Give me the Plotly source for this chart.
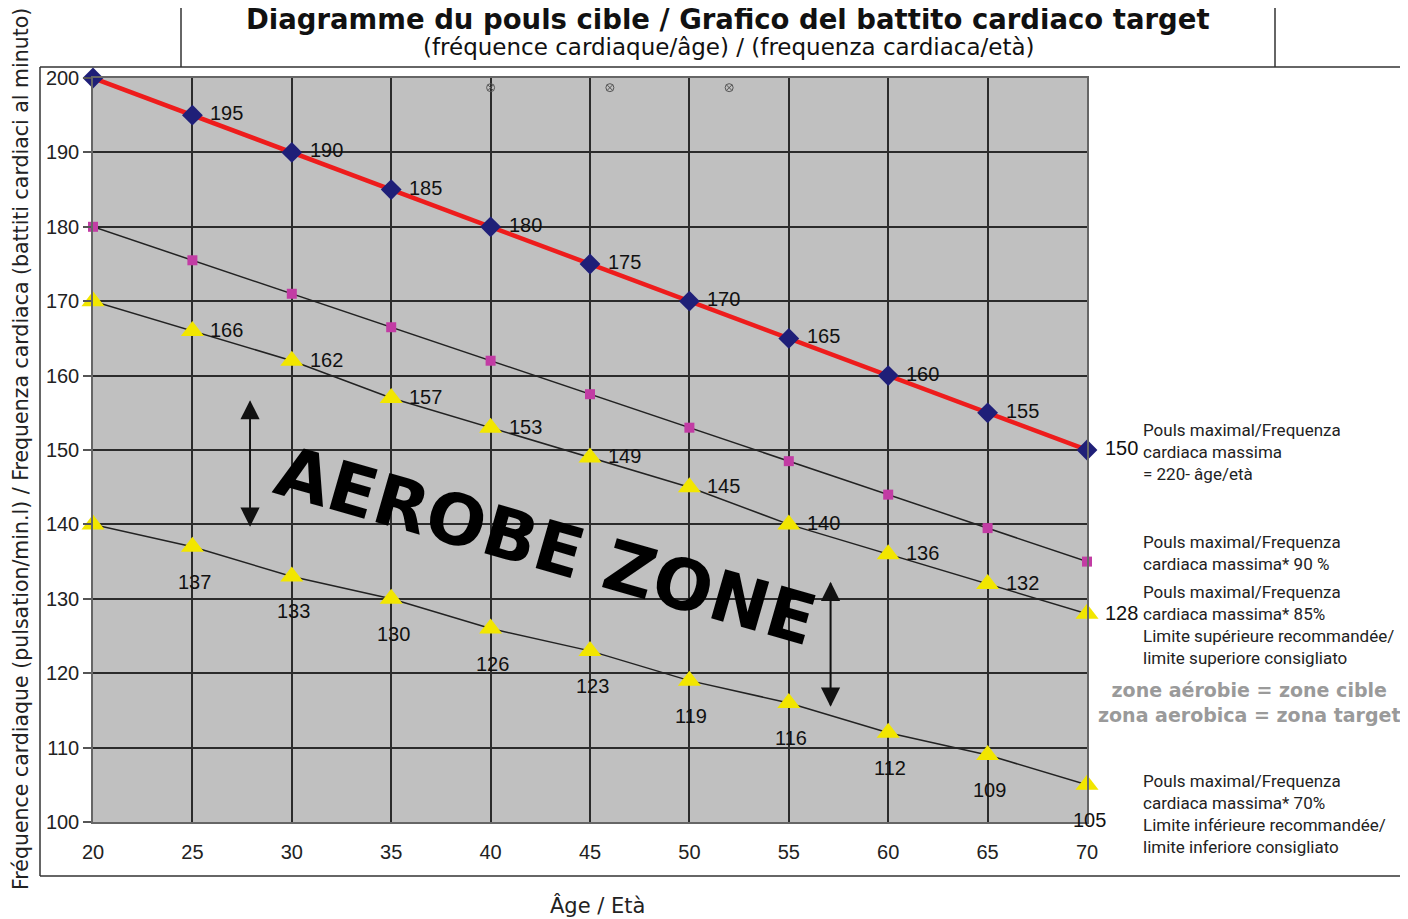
import plotly.graph_objects as go

# ---------------- data ----------------
ages = [20, 25, 30, 35, 40, 45, 50, 55, 60, 65, 70]
hr_max = [200, 195, 190, 185, 180, 175, 170, 165, 160, 155, 150]
hr_90 = [180, 175.5, 171, 166.5, 162, 157.5, 153, 148.5, 144, 139.5, 135]
hr_85 = [170, 166, 162, 157, 153, 149, 145, 140, 136, 132, 128]
hr_70 = [140, 137, 133, 130, 126, 123, 119, 116, 112, 109, 105]
labels_max = ["", "195", "190", "185", "180", "175", "170", "165", "160", "155", "150"]
labels_85 = ["", "166", "162", "157", "153", "149", "145", "140", "136", "132", "128"]
labels_70 = ["", "137", "133", "130", "126", "123", "119", "116", "112", "109", "105"]
stray_x = [40, 46, 52]
stray_y = [198.7, 198.7, 198.7]
x_ticks = [20, 25, 30, 35, 40, 45, 50, 55, 60, 65, 70]
y_ticks = [100, 110, 120, 130, 140, 150, 160, 170, 180, 190, 200]

title = "Diagramme du pouls cible / Grafico del battito cardiaco target"
subtitle = "(fréquence cardiaque/âge) / (frequenza cardiaca/età)"
y_title = "Fréquence cardiaque (pulsation/min.l) / Frequenza cardiaca (battiti cardiaci al minuto)"
x_title = "Âge / Età"
zone_text = "AEROBE ZONE"
note_max = "Pouls maximal/Frequenza<br>cardiaca massima<br>= 220- âge/età"
note_90 = "Pouls maximal/Frequenza<br>cardiaca massima* 90 %"
note_85 = ("Pouls maximal/Frequenza<br>cardiaca massima* 85%<br>"
           "Limite supérieure recommandée/<br>limite superiore consigliato")
note_zone = "zone aérobie = zone cible<br>zona aerobica = zona target"
note_70 = ("Pouls maximal/Frequenza<br>cardiaca massima* 70%<br>"
           "Limite inférieure recommandée/<br>limite inferiore consigliato")

# ---------------- layout geometry (screen pixels; page body has an 8px margin) ----------------
OFF = 8
W, H = 1408 - 2 * OFF, 919 - OFF
L, R, T, B = 93 - OFF, 1087 - OFF, 78 - OFF, 822 - OFF


def px(xs):
    return (xs - OFF - L) / (R - L)


def py(ys):
    return (B - (ys - OFF)) / (B - T)


LABEL_FONT = dict(family="Liberation Sans, Arial, sans-serif", size=20, color="#111111")
DIN = "Roboto, Liberation Sans, sans-serif"
WIDE = "DejaVu Sans, sans-serif"

fig = go.Figure()

fig.add_trace(go.Scatter(
    x=ages, y=hr_90, mode="lines+markers",
    line=dict(color="#222222", width=1.5),
    marker=dict(symbol="square", size=10, color="#c23ca4"),
    cliponaxis=False, showlegend=False))

fig.add_trace(go.Scatter(
    x=ages, y=hr_85, mode="lines+markers",
    line=dict(color="#222222", width=1.5),
    marker=dict(symbol="triangle-up", size=20, color="#f2e600"),
    cliponaxis=False, showlegend=False))

fig.add_trace(go.Scatter(
    x=ages, y=hr_70, mode="lines+markers",
    line=dict(color="#222222", width=1.5),
    marker=dict(symbol="triangle-up", size=20, color="#f2e600"),
    cliponaxis=False, showlegend=False))

fig.add_trace(go.Scatter(
    x=ages, y=hr_max, mode="lines+markers",
    line=dict(color="#ee1c1c", width=4.5),
    marker=dict(symbol="diamond", size=16, color="#1f1f78"),
    cliponaxis=False, showlegend=False))

fig.add_trace(go.Scatter(
    x=stray_x, y=stray_y, mode="markers",
    marker=dict(symbol="circle-x-open", size=8, color="#555555", line=dict(width=1)),
    cliponaxis=False, showlegend=False, hoverinfo="skip"))

annotations = []

# data labels
for xa, ya, t in zip(ages, hr_max, labels_max):
    if t:
        annotations.append(dict(x=xa, y=ya, text=t, showarrow=False, xanchor="left", yanchor="middle",
                                xshift=16, yshift=2, font=LABEL_FONT))
for xa, ya, t in zip(ages, hr_85, labels_85):
    if t:
        annotations.append(dict(x=xa, y=ya, text=t, showarrow=False, xanchor="left", yanchor="middle",
                                xshift=16, yshift=1, font=LABEL_FONT))
for xa, ya, t in zip(ages, hr_70, labels_70):
    if t:
        annotations.append(dict(x=xa, y=ya, text=t, showarrow=False, xanchor="center", yanchor="middle",
                                xshift=2, yshift=-35, font=LABEL_FONT))

# titles
annotations.append(dict(text="<b>" + title + "</b>", x=px(728), y=py(19), xref="paper", yref="paper",
                        showarrow=False, xanchor="center", yanchor="middle",
                        font=dict(family=WIDE, size=27.5, color="#111111")))
annotations.append(dict(text=subtitle, x=px(728), y=py(47), xref="paper", yref="paper",
                        showarrow=False, xanchor="center", yanchor="middle",
                        font=dict(family=WIDE, size=23, color="#111111")))
annotations.append(dict(text=y_title, x=px(21), y=py(449), xref="paper", yref="paper",
                        showarrow=False, xanchor="center", yanchor="middle", textangle=-90,
                        font=dict(family=WIDE, size=20.5, color="#222222")))
annotations.append(dict(text=x_title, x=px(597), y=py(905), xref="paper", yref="paper",
                        showarrow=False, xanchor="center", yanchor="middle",
                        font=dict(family=WIDE, size=21, color="#222222")))

# notes on the right
for txt, ymid in [(note_max, 452), (note_90, 553), (note_85, 624.5), (note_70, 814)]:
    annotations.append(dict(text=txt, x=px(1141), y=py(ymid), xref="paper", yref="paper",
                            showarrow=False, xanchor="left", yanchor="middle", align="left",
                            font=dict(family=DIN, size=17, color="#222222")))
annotations.append(dict(text="<b>" + note_zone + "</b>", x=px(1249), y=py(702), xref="paper", yref="paper",
                        showarrow=False, xanchor="center", yanchor="middle", align="center",
                        font=dict(family=WIDE, size=19, color="#9a9a9a")))

# big rotated label
annotations.append(dict(text="<b>" + zone_text + "</b>", x=px(546), y=py(546), xref="paper", yref="paper",
                        showarrow=False, xanchor="center", yanchor="middle", textangle=16,
                        font=dict(family=WIDE, size=70, color="#000000")))

# double-headed arrows
for xa, ytop, ybot in [(27.9, 156.7, 139.7), (57.1, 132.3, 115.5)]:
    for ytip, ytail in ((ytop, ybot), (ybot, ytop)):
        annotations.append(dict(x=xa, y=ytip, ax=xa, ay=ytail, xref="x", yref="y",
                                axref="x", ayref="y", text="", showarrow=True,
                                arrowhead=2, arrowsize=2.4, arrowwidth=1.6, arrowcolor="#111111"))

shapes = []
line_style = dict(color="#333333", width=1.5)
# outer frame
shapes.append(dict(type="line", xref="paper", yref="paper", x0=px(40), x1=px(1410), y0=py(67), y1=py(67), line=line_style))
shapes.append(dict(type="line", xref="paper", yref="paper", x0=px(40), x1=px(1410), y0=py(876), y1=py(876), line=line_style))
shapes.append(dict(type="line", xref="paper", yref="paper", x0=px(40), x1=px(40), y0=py(67), y1=py(876), line=line_style))
# title box sides
shapes.append(dict(type="line", xref="paper", yref="paper", x0=px(181), x1=px(181), y0=py(0), y1=py(67), line=line_style))
shapes.append(dict(type="line", xref="paper", yref="paper", x0=px(1275), x1=px(1275), y0=py(0), y1=py(67), line=line_style))

fig.update_layout(
    width=W, height=H,
    margin=dict(l=L, r=W - R, t=T, b=H - B),
    paper_bgcolor="white",
    plot_bgcolor="#c0c0c0",
    annotations=annotations,
    shapes=shapes,
    xaxis=dict(range=[20, 70], tickvals=x_ticks, showgrid=True, gridcolor="#2b2b2b", gridwidth=2,
               zeroline=False, showline=True, linecolor="#666666", linewidth=1.5, mirror=True,
               ticks="", ticklabelstandoff=11,
               tickfont=dict(family="Liberation Sans, Arial, sans-serif", size=20, color="#222222")),
    yaxis=dict(range=[100, 200], tickvals=y_ticks, showgrid=True, gridcolor="#2b2b2b", gridwidth=2,
               zeroline=False, showline=True, linecolor="#666666", linewidth=1.5, mirror=True,
               ticks="outside", ticklen=8, tickcolor="#555555", tickwidth=2,
               tickfont=dict(family="Liberation Sans, Arial, sans-serif", size=20, color="#222222")),
)

fig.write_html("out.html")
